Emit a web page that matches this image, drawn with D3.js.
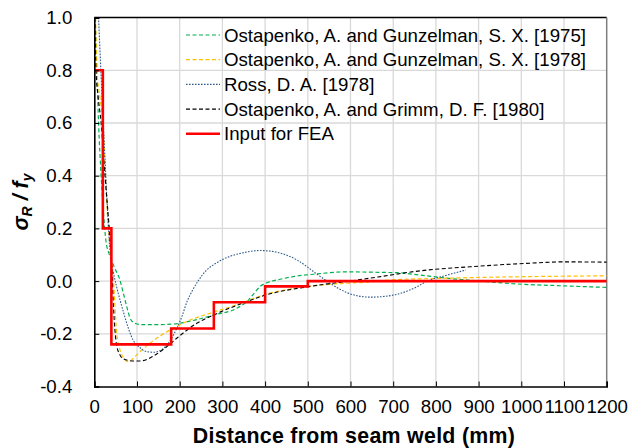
<!DOCTYPE html>
<html>
<head>
<meta charset="utf-8">
<script src="https://cdn.jsdelivr.net/npm/d3@7"></script>
<style>
  body { margin: 0; background: #fff; }
  svg { font-family: Arial, "Liberation Sans", sans-serif; }
</style>
</head>
<body>
<svg width="630" height="448"></svg>
<script>
// data
var xTicks = [0, 100, 200, 300, 400, 500, 600, 700, 800, 900, 1000, 1100, 1200];
var yTicks = [-0.4, -0.2, 0, 0.2, 0.4, 0.6, 0.8, 1.0];

var seriesNames = [
  "Ostapenko, A. and Gunzelman, S. X. [1975]",
  "Ostapenko, A. and Gunzelman, S. X. [1978]",
  "Ross, D. A. [1978]",
  "Ostapenko, A. and Grimm, D. F. [1980]",
  "Input for FEA"
];

var og1975 = [[2,1.0],[6,0.8],[10,0.6],[16,0.4],[22,0.25],[27,0.156],[37,0.093],[48,0.049],[60,0.004],[68,-0.046],[76,-0.097],[84,-0.141],[95,-0.16],[110,-0.165],[150,-0.165],[185,-0.163],[230,-0.15],[279,-0.129],[334,-0.103],[357,-0.078],[375,-0.045],[388,-0.021],[410,-0.003],[435,0.007],[470,0.018],[513,0.026],[591,0.035],[677,0.033],[709,0.032],[763,0.023],[826,0.011],[904,0],[981,-0.01],[1099,-0.018],[1200,-0.024]];

var og1978 = [[3,1.0],[6,0.8],[13,0.7],[20,0.6],[25,0.45],[29,0.3],[33,0.2],[39,0.1],[45,0.0],[52,-0.19],[60,-0.26],[68,-0.29],[80,-0.306],[90,-0.295],[107,-0.268],[146,-0.217],[177,-0.186],[224,-0.148],[271,-0.122],[326,-0.094],[404,-0.049],[482,-0.024],[560,-0.011],[638,-0.004],[700,0.005],[800,0.01],[904,0.014],[1200,0.02]];

var ross1978 = [[10,1.0],[14,0.85],[18,0.7],[24,0.5],[30,0.3],[34,0.18],[38,0.09],[45,0.03],[52,-0.02],[60,-0.07],[68,-0.116],[80,-0.18],[91,-0.224],[105,-0.25],[123,-0.268],[140,-0.27],[160,-0.258],[175,-0.232],[193,-0.18],[205,-0.135],[217,-0.078],[230,-0.035],[245,0.005],[262,0.04],[285,0.068],[318,0.094],[350,0.108],[388,0.116],[420,0.112],[451,0.098],[475,0.08],[498,0.055],[520,0.028],[545,0],[570,-0.026],[592,-0.044],[620,-0.057],[646,-0.061],[680,-0.058],[720,-0.045],[755,-0.022],[780,0],[820,0.02],[870,0.042]];

var og1980 = [[1,1.0],[4,0.8],[9,0.7],[16,0.6],[25,0.4],[30,0.3],[35,0.2],[41,0.05],[45,-0.1],[48,-0.18],[52,-0.24],[60,-0.28],[68,-0.295],[90,-0.303],[107,-0.303],[146,-0.277],[177,-0.239],[193,-0.217],[240,-0.16],[279,-0.129],[357,-0.078],[401,-0.053],[502,-0.021],[615,0.004],[670,0.017],[748,0.036],[904,0.057],[1021,0.068],[1099,0.073],[1200,0.072]];

var feaInput = [[0,0.8],[20,0.8],[20,0.2],[40,0.2],[40,-0.24],[180,-0.24],[180,-0.18],[280,-0.18],[280,-0.08],[400,-0.08],[400,-0.02],[500,-0.02],[500,0],[1200,0]];

var svg = d3.select("svg"),
    margin = {top: 17.6, right: 23.3, bottom: 61.5, left: 94.3},
    width = +svg.attr("width") - margin.left - margin.right,
    height = +svg.attr("height") - margin.top - margin.bottom;

var g = svg.append("g")
    .attr("transform", "translate(" + margin.left + "," + margin.top + ")");

var x = d3.scaleLinear().domain([0, 1200]).range([0, width]);
var y = d3.scaleLinear().domain([-0.4, 1.0]).range([height, 0]);

g.append("clipPath")
    .attr("id", "clip")
    .append("rect")
    .attr("width", width)
    .attr("height", height);

// gridlines
g.append("g").selectAll("line")
    .data(xTicks.slice(1, -1))
  .enter().append("line")
    .attr("x1", function(d) { return x(d); })
    .attr("x2", function(d) { return x(d); })
    .attr("y1", 0)
    .attr("y2", height)
    .attr("stroke", "#d9d9d9")
    .attr("stroke-width", 1.3);

g.append("g").selectAll("line")
    .data(yTicks.slice(1, -1))
  .enter().append("line")
    .attr("x1", 0)
    .attr("x2", width)
    .attr("y1", function(d) { return y(d); })
    .attr("y2", function(d) { return y(d); })
    .attr("stroke", "#d9d9d9")
    .attr("stroke-width", 1.3);

// frame: top black, right gray
g.append("line").attr("x1", 0).attr("x2", width).attr("y1", 0).attr("y2", 0)
    .attr("stroke", "#000").attr("stroke-width", 1.5);
g.append("line").attr("x1", width).attr("x2", width).attr("y1", 0).attr("y2", height)
    .attr("stroke", "#7f7f7f").attr("stroke-width", 1.5);

var smooth = d3.line()
    .x(function(d) { return x(d[0]); })
    .y(function(d) { return y(d[1]); })
    .curve(d3.curveMonotoneX);

var step = d3.line()
    .x(function(d) { return x(d[0]); })
    .y(function(d) { return y(d[1]); });

var series = [
  {data: og1975, color: "#00b050", dash: "4,2.5", w: 1.2, line: smooth},
  {data: og1978, color: "#ffc000", dash: "4,2.5", w: 1.2, line: smooth},
  {data: ross1978, color: "#2f5b8c", dash: "1.6,1.4", w: 1.1, line: smooth},
  {data: og1980, color: "#000000", dash: "4,2.5", w: 1.1, line: smooth},
  {data: feaInput, color: "#ff0000", dash: null, w: 2.6, line: step}
];

var plot = g.append("g").attr("clip-path", "url(#clip)");
series.forEach(function(s) {
  plot.append("path")
      .datum(s.data)
      .attr("fill", "none")
      .attr("stroke", s.color)
      .attr("stroke-width", s.w)
      .attr("stroke-dasharray", s.dash)
      .attr("d", s.line);
});

// axes
var xAxis = d3.axisBottom(x).tickValues(xTicks).tickSize(-5).tickPadding(13)
    .tickFormat(function(d) { return d; });
var yAxis = d3.axisLeft(y).tickValues(yTicks).tickSize(-5).tickPadding(22)
    .tickFormat(function(d) { return d.toFixed(1); });

var xg = g.append("g")
    .attr("transform", "translate(0," + height + ")")
    .call(xAxis);
var yg = g.append("g").call(yAxis);

[xg, yg].forEach(function(a) {
  a.select(".domain").attr("stroke", "#000").attr("stroke-width", 1.6);
  a.selectAll(".tick line").attr("stroke", "#000").attr("stroke-width", 1);
  a.selectAll(".tick text").attr("fill", "#000")
      .style("font-size", "18.67px")
      .style("font-family", "Arial, 'Liberation Sans', sans-serif");
});

// axis titles
svg.append("text")
    .attr("x", 354)
    .attr("y", 443)
    .attr("text-anchor", "middle")
    .style("font-size", "21.33px")
    .style("letter-spacing", "0.3px")
    .style("font-weight", "bold")
    .text("Distance from seam weld (mm)");

var yt = svg.append("text")
    .attr("transform", "translate(28," + (margin.top + height / 2) + ") rotate(-90)")
    .attr("text-anchor", "middle")
    .style("font-size", "21.33px")
    .style("font-weight", "bold")
    .style("font-style", "italic");
yt.append("tspan").text("σ");
yt.append("tspan").attr("dy", 4).style("font-size", "14px").text("R");
yt.append("tspan").attr("dy", -4).text(" / f");
yt.append("tspan").attr("dy", 4).style("font-size", "14px").text("y");

// legend
var legend = svg.append("g");
series.forEach(function(s, i) {
  var ly = 35 + i * 24.7;
  legend.append("line")
      .attr("x1", 186).attr("x2", 220)
      .attr("y1", ly).attr("y2", ly)
      .attr("stroke", s.color)
      .attr("stroke-width", s.dash ? 1.2 : 2.6)
      .attr("stroke-dasharray", s.dash);
  legend.append("text")
      .attr("x", 224)
      .attr("y", ly)
      .attr("dy", "0.35em")
      .style("font-size", "18.67px")
      .text(seriesNames[i]);
});
</script>
</body>
</html>
